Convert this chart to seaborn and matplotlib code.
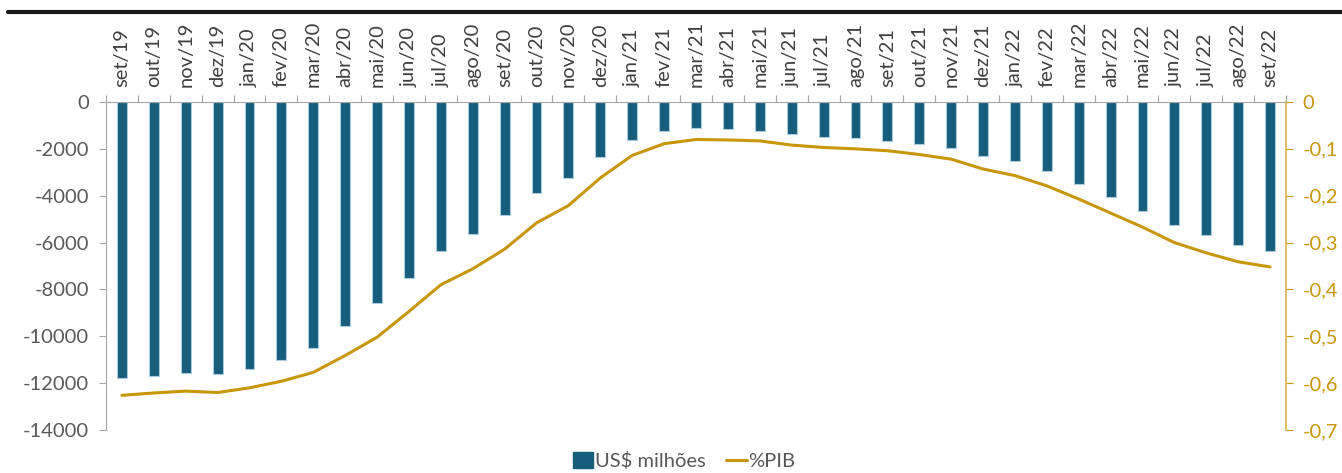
import numpy as np
import pandas as pd
import matplotlib
matplotlib.use("Agg")
import matplotlib.pyplot as plt
from matplotlib.lines import Line2D
from matplotlib.patches import Patch
from matplotlib.ticker import FuncFormatter, FixedLocator
import seaborn as sns

months = ["set/19", "out/19", "nov/19", "dez/19", "jan/20", "fev/20", "mar/20", "abr/20",
          "mai/20", "jun/20", "jul/20", "ago/20", "set/20", "out/20", "nov/20", "dez/20",
          "jan/21", "fev/21", "mar/21", "abr/21", "mai/21", "jun/21", "jul/21", "ago/21",
          "set/21", "out/21", "nov/21", "dez/21", "jan/22", "fev/22", "mar/22", "abr/22",
          "mai/22", "jun/22", "jul/22", "ago/22", "set/22"]
usd_milhoes = [-11780, -11680, -11550, -11600, -11380, -11010, -10500, -9560,
               -8580, -7510, -6350, -5620, -4820, -3890, -3250, -2350,
               -1620, -1250, -1130, -1170, -1230, -1370, -1480, -1550,
               -1650, -1810, -1960, -2300, -2530, -2950, -3500, -4060,
               -4640, -5240, -5660, -6090, -6350]
pib_pct = [-0.626, -0.621, -0.617, -0.620, -0.610, -0.596, -0.577, -0.541,
           -0.502, -0.447, -0.390, -0.356, -0.314, -0.258, -0.221, -0.162,
           -0.114, -0.089, -0.080, -0.081, -0.083, -0.092, -0.097, -0.100,
           -0.104, -0.112, -0.122, -0.143, -0.157, -0.179, -0.207, -0.237,
           -0.267, -0.300, -0.322, -0.341, -0.352]
left_ticks = [0, -2000, -4000, -6000, -8000, -10000, -12000, -14000]
right_ticks = [0, -0.1, -0.2, -0.3, -0.4, -0.5, -0.6, -0.7]

BAR = "#175E7C"
GOLD = "#C8960A"
GREY = "#595959"
AXIS = "#A6A6A6"

sns.set_theme(style="white")
plt.rcParams["font.family"] = ["Lato", "DejaVu Sans"]

df = pd.DataFrame({"mes": months, "usd": usd_milhoes, "pib": pib_pct})
df["pos"] = np.arange(len(df))

fig = plt.figure(figsize=(13.42, 4.73), dpi=100)
ax = fig.add_axes([106 / 1342, 1 - 430 / 473, (1286 - 106) / 1342, (430 - 102) / 473])

sns.barplot(data=df, x="mes", y="usd", ax=ax, color=BAR, width=0.31,
            edgecolor="#A9CBDD", linewidth=0.8, saturation=1)
ax.set_xlim(-0.5, len(df) - 0.5)
ax.set_ylim(-14000, 0)
ax.set_xlabel("")
ax.set_ylabel("")

# category labels on top, tick marks on the category boundaries
ax.xaxis.tick_top()
ax.set_xticks(df["pos"])
ax.set_xticklabels(months, rotation=90, fontsize=14.5, color="#404040")
ax.tick_params(axis="x", which="major", length=0, pad=11)
ax.xaxis.set_minor_locator(FixedLocator(np.arange(-0.5, len(df), 1.0)))
ax.tick_params(axis="x", which="minor", top=True, bottom=False, length=5,
               width=0.8, color=AXIS, direction="out")

ax.set_yticks(left_ticks)
ax.yaxis.set_major_formatter(FuncFormatter(lambda v, p: f"{int(v)}"))
ax.tick_params(axis="y", left=True, length=5, width=0.8, color=AXIS,
               labelsize=14.5, labelcolor=GREY, pad=7)

for s in ["bottom", "right"]:
    ax.spines[s].set_visible(False)
for s in ["top", "left"]:
    ax.spines[s].set_color(AXIS)
    ax.spines[s].set_linewidth(0.8)

ax2 = ax.twinx()
sns.lineplot(data=df, x="pos", y="pib", ax=ax2, color=GOLD, linewidth=2.2)
ax2.set_xlim(-0.5, len(df) - 0.5)
ax2.set_ylim(-0.7, 0)
ax2.set_xlabel("")
ax2.set_ylabel("")
ax2.set_yticks(right_ticks)
ax2.yaxis.set_major_formatter(FuncFormatter(
    lambda v, p: "0" if abs(v) < 1e-9 else f"{v:.1f}".replace(".", ",")))
ax2.tick_params(axis="y", right=True, length=5, width=0.8, color=GOLD,
                labelsize=14.5, labelcolor=GOLD, pad=7)
for s in ["top", "left", "bottom"]:
    ax2.spines[s].set_visible(False)
ax2.spines["right"].set_color("#D9B24A")
ax2.spines["right"].set_linewidth(1.2)

# heavy rule across the top
fig.add_artist(Line2D([8 / 1342, 1.0], [1 - 12 / 473, 1 - 12 / 473],
                      color="#1A1A1A", linewidth=3))

handles = [Patch(facecolor=BAR, edgecolor=BAR, label="US$ milhões"),
           Line2D([0], [0], color=GOLD, linewidth=2.2, label="%PIB")]
fig.legend(handles=handles, loc="center", bbox_to_anchor=(0.51, 1 - 461 / 473),
           ncol=2, frameon=False, fontsize=14.5, labelcolor=GREY,
           handlelength=1.0, handleheight=0.8, handletextpad=0.1, columnspacing=1.0)

fig.savefig("out.png", dpi=100)
